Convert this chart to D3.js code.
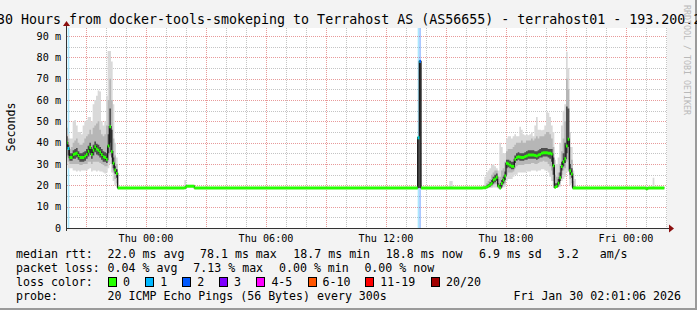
<!DOCTYPE html>
<html><head><meta charset="utf-8">
<script src="https://cdn.jsdelivr.net/npm/d3@7"></script>
<style>
html,body{margin:0;padding:0;background:#f3f3f3;}
svg{display:block;}
text{font-family:"DejaVu Sans Mono",monospace;fill:#000;}
</style></head><body>
<svg id="chart" width="697" height="310"></svg>
<script>
// ---------------- DATA ----------------
const titleText = "30 Hours from docker-tools-smokeping to Terrahost AS (AS56655) - terrahost01 - 193.200.2";
const yAxisTitle = "Seconds";
const viewStart = "2026-01-28T20:03";
const viewEnd   = "2026-01-30T02:03";
const seriesStart = "2026-01-28T20:00";   // step 0
const stepMinutes = 5;
const yMaxMs = 93.75;
const yTicks = [0,10,20,30,40,50,60,70,80,90];
const yTickLabels = ["0","10 m","20 m","30 m","40 m","50 m","60 m","70 m","80 m","90 m"];
const xLabelTimes = ["2026-01-29T00:00","2026-01-29T06:00","2026-01-29T12:00","2026-01-29T18:00","2026-01-30T00:00"];

// detailed 5-minute steps (index from seriesStart)
const detailStep = [0,1,2,3,4,5,6,7,8,9,10,11,12,13,14,15,16,17,18,19,20,21,22,23,24,25,26,27,28,29,30,
  211,212,
  250,251,252,253,254,255,256,257,258,259,260,261,262,263,264,265,266,267,268,269,270,271,272,273,274,275,276,277,278,279,
  280,281,282,283,284,285,286,287,288,289,290,291,292,293,294,295,296,297,298,299,300,301,302,303,304,305];
// median RTT (ms)
const medianMs = [40,37.3,33,33,34.5,34.8,35,34,33,33,33,33.8,34.5,36,37.7,34.5,36.5,38.1,37,36.5,35.5,34.5,33.4,33,32.2,38.4,47.5,35.8,30.3,27.2,25.6,
  42.3,78.1,
  18.9,18.9,19.2,19.7,20.3,20.9,22.5,23,23.8,19.7,18.8,20.9,22.5,24.4,30.3,30,29.4,29,28.8,32.2,33.1,33.4,33.2,33.1,33.1,33.5,33.8,34.2,34.2,34.2,
  34.2,34,33.8,34.2,34.5,35,35.3,35.3,35.3,35,35,34.7,29.2,19.1,19.5,21,23.5,28.8,31,32.5,38.4,41.6,26.8,25.3,18.8,18.8];
// smoke: lowest / highest ping
const minMs = [30,28,28,28,27,27,26.5,27,26.5,27,27,27,27,27.5,28,26.5,27,27,26.5,27,26.5,26.5,26,25.5,26,28,30,26,22,20,19,
  18.8,18.8,
  18.5,18.5,18.5,18.6,18.7,18.8,19,19,19,18.5,18.5,18.6,19,19.5,22,23,23,23,24,25,25,26,26,26,26,26,26.5,26.5,26.5,27,
  27,27,26.5,27,27,27.5,27.5,27,27,26,24,22,19.5,18.6,18.7,19,19.5,22,23,24,26,27,20,19,18.6,18.6];
const maxMs = [50.6,44,42,42,50,50.6,48,45,45,44,48,50,50.6,52,52,50,58,60,62,64.5,64,50,48,50,62,83,83,78,58,40,33,
  42.3,78.1,
  19.5,24,26,27,28,29.5,30,29,28,27,40,38,35,35,42,43,43,42,43,44,43,43,47.5,46,44,43.5,44,43.5,44,45,
  43,48,52,46,46,45.8,46,48,54.5,54,52,48,45,32,30,33,40,48,55,58,82.6,75,45,38,27,23];
// smoke: middle pings
const loMs = [33,31,30,30,30,30,30,30,29.5,29.5,30,30,30,31,31,30,31,31,31,31,30.5,30,29.5,29,29,31,34,30,26,23,21,
  18.8,18.8,
  18.7,18.7,18.8,19,19.2,19.5,20,20.5,20.5,19,18.7,19,20,21,25,26,26,26,26.5,28,29,29.5,29.5,29.5,29.5,30,30,30,30,30.5,
  30.5,30,30,30.5,31,31,31.5,31,31,30,29,27,22,18.8,19,19.5,21,25,27,28,31,32,23,21,18.7,18.7];
const hiMs = [47,42,37,38,40,41,42,40,39,39,40,42,43,44,46,44,47,48,49,50,46,44,43,44,48,60,70,60,42,34,30,
  42.3,78.1,
  19.2,20,21,22,23,25,26,27,27,23,24,27,28,31,36,37,37,37,38,39,40,40,40,41,40,40,41,41,41,42,
  41,42,43,42,43,43,43,44,45,45,44,42,38,25,24,26,30,36,42,50,70,65,38,32,22,20];
// smoke: dense core around the median
const darkLoMs = [37,34,31.5,31.5,32.5,32.5,33,32,31,31,31,31.5,32.5,33.5,35,32.5,34,35.5,34.5,34,33,32,31,31,30.5,35,40,33,28,25.5,23.5,
  18.8,18.8,
  18.8,18.8,19,19.2,19.5,20,21,21.5,22,19.2,18.8,19.5,21,22.5,28,28.5,28,27.5,27.5,30.5,31.5,32,31.5,31.5,31.5,32,32,32.5,32.5,32.5,
  32.5,32.5,32,32.5,33,33,33.5,33.5,33.5,33,32.5,31,25,19,19.2,20,22,27,29,30.5,35,38,25,23.5,18.8,18.8];
const darkHiMs = [43,39,35,35,36.5,37,37.5,36,35,35,35.5,36,37,38.5,40,37,39,40.5,39.5,39,38,37,36,35.5,35,44,56,46,33,29,27.5,
  42.3,78.1,
  19,19.2,19.8,20.5,21.5,22.5,24,25,25.5,21,20,22.5,24,26.5,32,32,31.5,31,31,34,35,35.5,35,35,35,35.5,36,36.5,36.5,36.5,
  36.5,36,36,36.5,37,37.5,37.5,37.5,37.5,37,37,37,33,21,21,23,26,31,35,40,57,56,30,28,19.5,19.2];

// quiet stretches: runs of steps with the same reading
const runFrom   = [31, 71, 72, 77, 213, 230, 232, 306, 348, 349, 352, 353];
const runTo     = [70, 71, 76, 210, 229, 231, 249, 347, 348, 351, 352, 358];
const runMedian = [18.8,18.9,19.6,18.8,18.8,18.8,18.8,18.8,18.4,18.8,18.8,18.8];
const runMin    = [18.6,18.6,19.2,18.6,18.6,18.6,18.6,18.6,18.2,18.6,18.6,18.6];
const runMax    = [19.2,22.5,20.3,19.2,19.2,22,19.2,19.2,18.8,19.2,23.5,19.2];

// packet loss (lost pings out of 20) on these steps
const lossStep  = [1, 211, 212];
const lossCount = [1, 1, 2];

const lossLabels = ["0","1","2","3","4-5","6-10","11-19","20/20"];
const lossColors = ["#26ff00","#00b8ff","#0059ff","#7e00ff","#ff00ff","#ff5500","#ff0000","#a10000"];

const legendRtt  = ["median rtt:","22.0 ms avg","78.1 ms max","18.7 ms min","18.8 ms now","6.9 ms sd","3.2   am/s"];
const legendLoss = ["packet loss:","0.04 % avg","7.13 % max","0.00 % min","0.00 % now"];
const legendLossTitle = "loss color:";
const legendProbe = ["probe:","20 ICMP Echo Pings (56 Bytes) every 300s"];
const stampText = "Fri Jan 30 02:01:06 2026";
const watermark = "RRDTOOL / TOBI OETIKER";

// ---------------- DRAW ----------------
const W = 697, H = 310;
const L = 67, R = 667, T = 28, B = 228;
const parse = d3.utcParse("%Y-%m-%dT%H:%M");
const t0 = parse(seriesStart);
const stepTime = k => new Date(t0.getTime() + k * stepMinutes * 60000);

const x = d3.scaleUtc().domain([parse(viewStart), parse(viewEnd)]).range([L, R]);
const y = d3.scaleLinear().domain([0, yMaxMs]).range([B, T]);

const svg = d3.select("#chart");
svg.append("rect").attr("width", W).attr("height", H).attr("fill", "#f3f3f3");
// frame shades
svg.append("rect").attr("x", W-2).attr("y", 0).attr("width", 2).attr("height", H).attr("fill", "#9a9a9a");
svg.append("rect").attr("x", 0).attr("y", H-2).attr("width", W).attr("height", 2).attr("fill", "#9a9a9a");

svg.append("rect").attr("x", L).attr("y", T).attr("width", R-L).attr("height", B-T).attr("fill", "#ffffff");

svg.append("defs").append("clipPath").attr("id", "plotclip")
  .append("rect").attr("x", L).attr("y", T).attr("width", R-L).attr("height", B-T);

// grid
const grid = svg.append("g").attr("shape-rendering", "crispEdges").attr("stroke-width", 1).attr("stroke-dasharray", "1,1");
const majorHours = d3.utcHour.every(3).range(parse(viewStart), parse(viewEnd));
const minorHours = d3.utcHour.every(1).range(parse(viewStart), parse(viewEnd)).filter(d => d.getUTCHours() % 3 !== 0);
grid.selectAll(".vmin").data(minorHours).join("line")
  .attr("x1", d => Math.round(x(d)) + 0.5).attr("x2", d => Math.round(x(d)) + 0.5)
  .attr("y1", T).attr("y2", B).attr("stroke", "#c4c4c4");
const minorMs = d3.range(5, yMaxMs, 10);
grid.selectAll(".hmin").data(minorMs).join("line")
  .attr("x1", L).attr("x2", R)
  .attr("y1", d => Math.round(y(d)) + 0.5).attr("y2", d => Math.round(y(d)) + 0.5).attr("stroke", "#c4c4c4");
grid.selectAll(".vmaj").data(majorHours).join("line")
  .attr("x1", d => Math.round(x(d)) + 0.5).attr("x2", d => Math.round(x(d)) + 0.5)
  .attr("y1", T).attr("y2", B).attr("stroke", "#e89a9a");
grid.selectAll(".hmaj").data(yTicks.filter(v => v > 0)).join("line")
  .attr("x1", L).attr("x2", R)
  .attr("y1", d => Math.round(y(d)) + 0.5).attr("y2", d => Math.round(y(d)) + 0.5).attr("stroke", "#e89a9a");

// assemble step records
const recs = [];
detailStep.forEach((k, i) => recs.push({k, med: medianMs[i], min: minMs[i], max: maxMs[i], lo: loMs[i], hi: hiMs[i], dlo: darkLoMs[i], dhi: darkHiMs[i]}));
runFrom.forEach((a, j) => {
  for (let k = a; k <= runTo[j]; k++) {
    const m = runMedian[j];
    recs.push({k, med: m, min: runMin[j], max: runMax[j], lo: m, hi: m, dlo: m, dhi: m});
  }
});
recs.sort((a, b) => a.k - b.k);
const lastRec = recs[recs.length - 1];
const pts = recs.concat([Object.assign({}, lastRec, {k: lastRec.k + 1})]);

const plot = svg.append("g").attr("clip-path", "url(#plotclip)");

// loss background bands
lossStep.forEach((k, i) => {
  plot.append("rect")
    .attr("x", x(stepTime(k))).attr("width", x(stepTime(k + 1)) - x(stepTime(k)))
    .attr("y", T).attr("height", B - T)
    .attr("fill", lossColors[lossCount[i]]).attr("fill-opacity", 0.33);
});

const band = (a, b) => d3.area().curve(d3.curveStepAfter)
  .x(d => x(stepTime(d.k))).y0(d => y(d[a])).y1(d => y(d[b]));
plot.append("path").attr("d", band("min", "max")(pts)).attr("fill", "#d9d9d9");
plot.append("path").attr("d", band("lo", "hi")(pts)).attr("fill", "#b6b6b6");
plot.append("path").attr("d", band("dlo", "dhi")(pts)).attr("fill", "#4e4e4e");

// median connector
plot.append("path")
  .attr("d", d3.line().curve(d3.curveStepAfter).x(d => x(stepTime(d.k))).y(d => y(d.med))(pts))
  .attr("fill", "none").attr("stroke", "#1c1c1c").attr("stroke-width", 1.3);

// median band (loss colour)
plot.append("path")
  .attr("d", d3.area().curve(d3.curveStepAfter).x(d => x(stepTime(d.k)))
    .y0(d => y(d.med) + 1.5).y1(d => y(d.med) - 1.5)(pts))
  .attr("fill", lossColors[0]);
lossStep.forEach((k, i) => {
  const r = recs.find(d => d.k === k);
  plot.append("rect")
    .attr("x", x(stepTime(k))).attr("width", x(stepTime(k + 1)) - x(stepTime(k)))
    .attr("y", y(r.med) - 1.5).attr("height", 3)
    .attr("fill", lossColors[lossCount[i]]);
});

// axes
const ax = svg.append("g").attr("shape-rendering", "crispEdges");
ax.append("line").attr("x1", L - 0.5).attr("x2", R + 2).attr("y1", B + 0.5).attr("y2", B + 0.5).attr("stroke", "#333").attr("stroke-width", 1);
ax.append("line").attr("x1", L - 0.5).attr("x2", L - 0.5).attr("y1", B + 3).attr("y2", T - 2).attr("stroke", "#333").attr("stroke-width", 1);
svg.append("path").attr("d", `M${R+2},${B-3.5} L${R+7},${B+0.5} L${R+2},${B+4.5} Z`).attr("fill", "#8b0f0f");
svg.append("path").attr("d", `M${L-4},${T-2} L${L-0.5},${T-7} L${L+3},${T-2} Z`).attr("fill", "#8b0f0f");

// y labels
svg.append("g").selectAll("text").data(yTicks).join("text")
  .attr("x", 61).attr("y", d => y(d) + 3.6).attr("text-anchor", "end")
  .style("font-size", "10.13px").text((d, i) => yTickLabels[i]);
// x labels
const fmt = d3.utcFormat("%a %H:%M");
svg.append("g").selectAll("text").data(xLabelTimes.map(parse)).join("text")
  .attr("x", d => x(d)).attr("y", 241.5).attr("text-anchor", "middle")
  .style("font-size", "10.13px").text(d => fmt(d));
// y axis title
svg.append("text").attr("transform", "translate(14.5,127) rotate(-90)").attr("text-anchor", "middle")
  .style("font-size", "11.6px").text(yAxisTitle);

// title
svg.append("text").attr("x", -3.1).attr("y", 24).style("font-size", "13.3px").text(titleText);

// watermark
svg.append("text").attr("transform", "translate(687,60) rotate(90)").attr("text-anchor", "middle")
  .attr("dy", "0.35em").style("font-size", "8.3px").style("fill", "#b9b9b9").text(watermark);

// legend
const lg = svg.append("g").style("font-size", "11.6px");
const rttX = [16, 107.6, 200, 293.3, 385.8, 479, 557.8];
legendRtt.forEach((s, i) => lg.append("text").attr("x", rttX[i]).attr("y", 258).attr("xml:space", "preserve").text(s));
const lossX = [16, 107.6, 193.3, 279, 364.4];
legendLoss.forEach((s, i) => lg.append("text").attr("x", lossX[i]).attr("y", 272).text(s));
lg.append("text").attr("x", 16).attr("y", 286).text(legendLossTitle);
const boxX = [108, 145.3, 182.2, 219, 256.4, 307.6, 365.3, 431];
lossLabels.forEach((s, i) => {
  lg.append("rect").attr("x", boxX[i] + 0.5).attr("y", 277.5).attr("width", 8).attr("height", 9)
    .attr("fill", lossColors[i]).attr("stroke", "#000").attr("stroke-width", 1).attr("shape-rendering", "crispEdges");
  lg.append("text").attr("x", boxX[i] + 15).attr("y", 286).text(s);
});
lg.append("text").attr("x", 16).attr("y", 300).text(legendProbe[0]);
lg.append("text").attr("x", 107.6).attr("y", 300).text(legendProbe[1]);
lg.append("text").attr("x", 681).attr("y", 300).attr("text-anchor", "end").text(stampText);
</script>
</body></html>
